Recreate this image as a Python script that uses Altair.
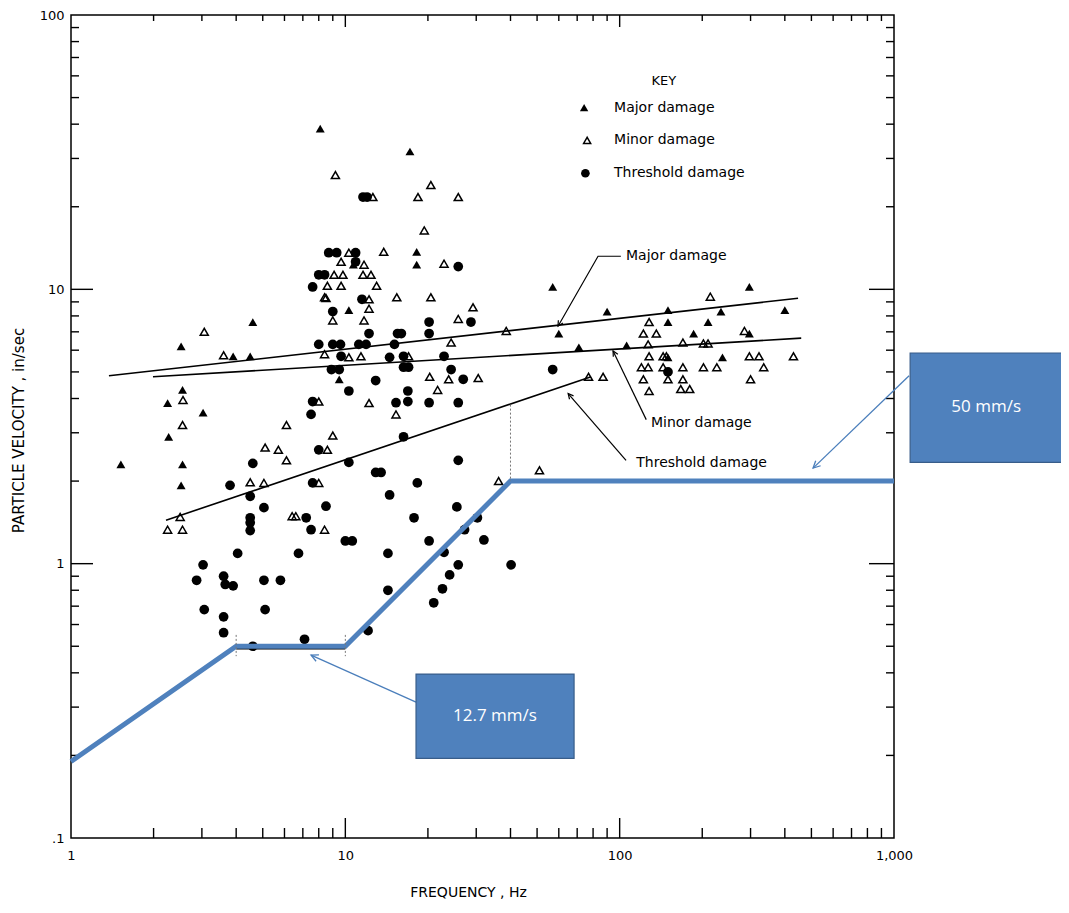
import altair as alt
import pandas as pd

# ---------------- data ----------------
major_freq = [1.52, 2.52, 2.25, 2.55, 3.03, 2.27, 2.55, 2.52, 4.6, 3.9, 4.5, 8.1, 17.2, 18.2,
              18.2, 10.7, 10.3, 9.5, 57, 90, 150, 297, 234, 400, 60, 150, 210, 186, 297, 71,
              106, 150, 237]
major_vel = [2.3, 6.2, 3.85, 4.3, 3.55, 2.9, 2.3, 1.93, 7.6, 5.7, 5.7, 38.5, 31.8, 13.7,
             12.3, 12.3, 8.4, 4.7, 10.2, 8.3, 8.4, 10.2, 8.3, 8.4, 6.9, 7.6, 7.6, 6.9, 6.9, 6.15,
             6.25, 5.65, 5.65]

minor_freq = [2.56, 3.06, 3.6, 2.55, 5.1, 5.7, 6.1, 6.1, 4.5, 5.05, 2.5, 2.25, 2.55, 6.4, 6.6,
              8.0, 8.6, 8.0, 8.4, 8.5, 9.2, 20.5, 12.6, 18.4, 25.8, 19.4, 10.3, 13.8, 22.9, 9.65,
              11.7, 9.1, 9.8, 11.6, 12.4, 8.6, 9.65, 13.0, 8.4, 12.2, 15.4, 20.5, 29.2, 9.0, 12.2,
              11.7, 25.8, 38.6, 24.3, 8.4, 10.3, 11.4, 17.0, 20.3, 23.8, 30.5, 21.7, 12.2, 15.3,
              9.0, 36.2, 51, 214, 128, 122, 136, 285, 127, 170, 202, 210, 128, 144, 148, 297, 322,
              430, 120, 127, 144, 170, 202, 226, 335, 122, 150, 170, 300, 128, 167, 180, 77, 87]
minor_vel = [3.95, 7.0, 5.75, 3.2, 2.65, 2.6, 3.2, 2.38, 1.98, 1.97, 1.48, 1.33, 1.33, 1.49, 1.49,
             3.9, 2.6, 1.97, 1.33, 9.3, 26.1, 24.0, 21.7, 21.7, 21.7, 16.4, 13.6, 13.7, 12.4, 12.6,
             12.3, 11.3, 11.3, 11.3, 11.3, 10.3, 10.3, 10.3, 9.35, 9.2, 9.35, 9.35, 8.6, 7.7, 8.5,
             7.7, 7.8, 7.05, 6.4, 5.8, 5.65, 5.7, 5.7, 4.8, 4.7, 4.75, 4.3, 3.85, 3.5,
             2.93, 2.0, 2.19, 9.4, 7.6, 6.9, 6.9, 7.05, 6.3, 6.4, 6.35, 6.35, 5.7, 5.7, 5.7, 5.7, 5.7,
             5.7, 5.2, 5.2, 5.2, 5.2, 5.2, 5.2, 5.2, 4.7, 4.7, 4.7, 4.7, 4.26, 4.33, 4.33, 4.8, 4.8]

thr_freq = [7.6, 4.6, 3.8, 4.5, 5.05, 4.5, 4.5, 4.5, 8.5, 4.05, 6.75, 3.03, 2.87, 3.6, 3.65, 3.9,
            5.05, 5.8, 3.06, 3.6, 5.1, 3.6, 7.1, 4.6, 7.6, 7.5, 8.0, 7.6, 7.5, 7.2, 10.0, 10.6,
            14.3, 14.3, 12.1, 8.0, 8.4, 11.5, 9.0, 20.2, 28.7, 8.7, 9.3, 10.9, 10.9, 25.8, 11.6,
            12.0, 12.2, 15.5, 16.0, 20.2, 8.0, 9.0, 9.6, 11.2, 11.9, 15.1, 9.65, 14.5, 16.3, 22.9,
            8.9, 9.5, 16.3, 17.0, 24.3, 12.9, 26.9, 10.3, 16.9, 15.3, 16.9, 20.2, 25.8, 16.3, 10.3,
            12.9, 13.5, 25.8, 18.3, 14.5, 25.5, 17.8, 30.3, 27.2, 20.2, 32.0, 22.9, 25.8, 40.2,
            24.0, 22.6, 21.0, 57, 150]
thr_vel = [10.2, 2.32, 1.93, 1.76, 1.6, 1.47, 1.41, 1.32, 1.62, 1.09, 1.09, 0.99, 0.87, 0.9, 0.84,
           0.83, 0.87, 0.87, 0.68, 0.64, 0.68, 0.56, 0.53, 0.5, 3.9, 3.5, 2.6, 1.97, 1.33, 1.47,
           1.21, 1.21, 1.09, 0.8, 0.57, 11.3, 11.3, 9.2, 8.3, 7.6, 7.6, 13.6, 13.6, 13.6, 12.6,
           12.1, 21.7, 21.7, 6.9, 6.9, 6.9, 6.9, 6.3, 6.3, 6.3, 6.3, 6.3, 6.3, 5.7, 5.65, 5.7, 5.7,
           5.1, 5.1, 5.2, 5.2, 5.1, 4.65, 4.7, 4.26, 4.26, 3.86, 3.9, 3.86, 3.86, 2.9, 2.34, 2.15,
           2.15, 2.38, 1.97, 1.78, 1.61, 1.47, 1.47, 1.33, 1.21, 1.22, 1.1, 0.99, 0.99, 0.91, 0.81,
           0.72, 5.1, 5.0]

# fitted damage lines (end points)
fit_names = ["Major", "Major", "Minor", "Minor", "Threshold", "Threshold"]
fit_freq = [1.375, 447, 1.99, 459, 2.22, 78.7]
fit_vel = [4.84, 9.28, 4.8, 6.64, 1.44, 4.8]

# blue limit curve
limit_freq = [1, 4, 10, 40, 1000]
limit_vel = [0.19, 0.5, 0.5, 2.0, 2.0]

# axis ticks / labels
x_labels = [1, 10, 100, 1000]
y_labels = [0.1, 1, 10, 100]
x_minor = [2, 3, 4, 5, 6, 7, 8, 9, 20, 30, 40, 50, 60, 70, 80, 90,
           200, 300, 400, 500, 600, 700, 800, 900]
x_major = [10, 100]
y_minor = [0.2, 0.3, 0.4, 0.5, 0.6, 0.7, 0.8, 0.9, 2, 3, 4, 5, 6, 7, 8, 9,
           20, 30, 40, 50, 60, 70, 80, 90]
y_major = [1, 10]

# leader lines of the curve labels
lead_grp = ["Major", "Major", "Major", "Minor", "Minor", "Thr", "Thr"]
lead_freq = [101, 83.4, 59.6, 125, 94.6, 105.5, 64.9]
lead_vel = [13.2, 13.2, 7.34, 3.35, 5.96, 2.38, 4.17]
head_freq = [59.6, 94.6, 64.9]
head_vel = [7.34, 5.96, 4.17]
head_ang = [210, 331, 320]

curve_text = ["Major damage", "Minor damage", "Threshold damage"]
curve_text_freq = [105.5, 130, 115]
curve_text_vel = [13.2, 3.27, 2.32]

key_text = ["Major damage", "Minor damage", "Threshold damage"]
key_sym_freq = [74.2, 76.1, 75.0]
key_vel = [46.0, 34.9, 26.5]
key_text_freq = [95.4, 95.4, 95.4]
key_title_freq = [145]
key_title_vel = [57.6]

# callouts
box_label = ["50 mm/s", "12.7 mm/s"]
box_f1 = [1145, 18.1]
box_f2 = [4385, 68.2]
box_v1 = [5.86, 0.396]
box_v2 = [2.34, 0.195]
box_text_freq = [2167, 35.1]
box_text_vel = [3.71, 0.279]
call_grp = ["a", "a", "b", "b"]
call_freq = [1135, 507, 18.1, 7.5]
call_vel = [4.84, 2.23, 0.313, 0.464]
call_head_freq = [507, 7.5]
call_head_vel = [2.23, 0.464]
call_head_ang = [226, 294]

# guide marks on the limit curve
guide_freq = [40, 4, 10]
guide_v1 = [3.8, 0.55, 0.55]
guide_v2 = [2.0, 0.46, 0.46]

# ---------------- chart ----------------
W, H = 823, 823
FONT = "DejaVu Sans"
BLUE = "#4F81BD"
ARROW = "M -0.5 1 L 0 0 L 0.5 1"

xs = alt.Scale(type="log", domain=[1, 1000])
ys = alt.Scale(type="log", domain=[0.1, 100])

x_axis = alt.Axis(values=x_labels, labelExpr="format(datum.value, ',')", ticks=False,
                  domain=False, grid=False, labelFlush=False, labelPadding=11,
                  labelFontSize=13, labelFont=FONT, labelColor="black",
                  title="FREQUENCY , Hz", titleFont=FONT, titleFontSize=14,
                  titleFontWeight="normal", titleColor="black", titleX=397, titleY=54,
                  titleBaseline="middle", titleAlign="center")
y_axis = alt.Axis(values=y_labels, labelExpr="datum.value < 1 ? '.1' : format(datum.value, ',')",
                  ticks=False, domain=False, grid=False, labelFlush=False, labelPadding=7,
                  labelFontSize=13, labelFont=FONT, labelColor="black",
                  title="PARTICLE VELOCITY , in/sec", titleFont=FONT, titleFontSize=15,
                  titleFontWeight="normal", titleColor="black", titleX=-53, titleY=415,
                  titleAngle=270, titleBaseline="middle", titleAlign="center")


def X(field="f"):
    return alt.X(f"{field}:Q", scale=xs, axis=x_axis)


def Y(field="v"):
    return alt.Y(f"{field}:Q", scale=ys, axis=y_axis)


df_major = pd.DataFrame({"f": major_freq, "v": major_vel})
df_minor = pd.DataFrame({"f": minor_freq, "v": minor_vel})
df_thr = pd.DataFrame({"f": thr_freq, "v": thr_vel})

major = alt.Chart(df_major).mark_point(shape="triangle-up", filled=True, color="black",
                                         size=80, opacity=1).encode(x=X(), y=Y())
minor = alt.Chart(df_minor).mark_point(shape="triangle-up", filled=False, color="black",
                                         size=65, strokeWidth=1.5, opacity=1).encode(x=X(), y=Y())
thr = alt.Chart(df_thr).mark_point(shape="circle", filled=True, color="black",
                                     size=95, opacity=1).encode(x=X(), y=Y())

df_fit = pd.DataFrame({"g": fit_names, "f": fit_freq, "v": fit_vel})
fits = alt.Chart(df_fit).mark_line(color="black", strokeWidth=1.6).encode(
    x=X(), y=Y(), detail="g:N")

df_lim = pd.DataFrame({"f": limit_freq, "v": limit_vel, "o": list(range(len(limit_freq)))})
limit = alt.Chart(df_lim).mark_line(color=BLUE, strokeWidth=5).encode(
    x=X(), y=Y(), order="o:Q")
under = alt.Chart(pd.DataFrame({"f": [4, 10], "v": [0.49, 0.49]})).mark_line(
    color="black", strokeWidth=1.5).encode(x=X(), y=Y())

df_guide = pd.DataFrame({"f": guide_freq, "v1": guide_v1, "v2": guide_v2})
guides = alt.Chart(df_guide).mark_rule(color="#777777", strokeWidth=1, strokeDash=[2, 2]).encode(
    x=X(), y=Y("v1"), y2="v2:Q")

# ticks (inward)
tx_minor = pd.DataFrame({"f": x_minor})
tx_major = pd.DataFrame({"f": x_major})
ty_minor = pd.DataFrame({"v": y_minor})
ty_major = pd.DataFrame({"v": y_major})
tick_style = dict(color="black", strokeWidth=1.4)
ticks = [
    alt.Chart(tx_minor).mark_rule(**tick_style).encode(x=X(), y=alt.value(H), y2=alt.value(H - 10)),
    alt.Chart(tx_major).mark_rule(**tick_style).encode(x=X(), y=alt.value(H), y2=alt.value(H - 20)),
    alt.Chart(tx_minor).mark_rule(**tick_style).encode(x=X(), y=alt.value(0), y2=alt.value(6)),
    alt.Chart(tx_major).mark_rule(**tick_style).encode(x=X(), y=alt.value(0), y2=alt.value(12)),
    alt.Chart(ty_minor).mark_rule(**tick_style).encode(y=Y(), x=alt.value(0), x2=alt.value(8)),
    alt.Chart(ty_major).mark_rule(**tick_style).encode(y=Y(), x=alt.value(0), x2=alt.value(22)),
    alt.Chart(ty_minor).mark_rule(**tick_style).encode(y=Y(), x=alt.value(W), x2=alt.value(W - 8)),
    alt.Chart(ty_major).mark_rule(**tick_style).encode(y=Y(), x=alt.value(W), x2=alt.value(W - 25)),
]

# curve labels with leaders
df_lead = pd.DataFrame({"g": lead_grp, "f": lead_freq, "v": lead_vel,
                        "o": list(range(len(lead_grp)))})
leaders = alt.Chart(df_lead).mark_line(color="black", strokeWidth=1.2).encode(
    x=X(), y=Y(), detail="g:N", order="o:Q")
df_head = pd.DataFrame({"f": head_freq, "v": head_vel, "a": head_ang})
heads = alt.Chart(df_head).mark_point(shape=ARROW, filled=False, color="black", strokeWidth=1.2,
                                        size=110, opacity=1).encode(
    x=X(), y=Y(), angle=alt.Angle("a:Q", scale=None))
df_ctext = pd.DataFrame({"t": curve_text, "f": curve_text_freq, "v": curve_text_vel})
ctext = alt.Chart(df_ctext).mark_text(align="left", baseline="middle", font=FONT, fontSize=14,
                                        color="black").encode(x=X(), y=Y(), text="t:N")

# key
key_tri = alt.Chart(pd.DataFrame({"f": key_sym_freq[:1], "v": key_vel[:1]})).mark_point(
    shape="triangle-up", filled=True, color="black", size=70, opacity=1).encode(x=X(), y=Y())
key_otri = alt.Chart(pd.DataFrame({"f": key_sym_freq[1:2], "v": key_vel[1:2]})).mark_point(
    shape="triangle-up", filled=False, color="black", size=50, strokeWidth=1.5, opacity=1).encode(x=X(), y=Y())
key_dot = alt.Chart(pd.DataFrame({"f": key_sym_freq[2:], "v": key_vel[2:]})).mark_point(
    shape="circle", filled=True, color="black", size=75, opacity=1).encode(x=X(), y=Y())
key_txt = alt.Chart(pd.DataFrame({"t": key_text, "f": key_text_freq, "v": key_vel})).mark_text(
    align="left", baseline="middle", font=FONT, fontSize=14, color="black").encode(
    x=X(), y=Y(), text="t:N")
key_title = alt.Chart(pd.DataFrame({"t": ["KEY"], "f": key_title_freq, "v": key_title_vel})).mark_text(
    align="center", baseline="middle", font=FONT, fontSize=13, color="black").encode(
    x=X(), y=Y(), text="t:N")

# callouts
df_box = pd.DataFrame({"f1": box_f1, "f2": box_f2, "v1": box_v1, "v2": box_v2})
boxes = alt.Chart(df_box).mark_rect(fill=BLUE, stroke="#385D8A", strokeWidth=1.2).encode(
    x=X("f1"), x2="f2:Q", y=Y("v1"), y2="v2:Q")
df_btext = pd.DataFrame({"t": box_label, "f": box_text_freq, "v": box_text_vel})
btext = alt.Chart(df_btext).mark_text(align="center", baseline="middle", font="Open Sans",
                                        fontSize=17, color="white").encode(x=X(), y=Y(), text="t:N")
df_call = pd.DataFrame({"g": call_grp, "f": call_freq, "v": call_vel})
call_lines = alt.Chart(df_call).mark_line(color="#4A7EBB", strokeWidth=1.3).encode(
    x=X(), y=Y(), detail="g:N")
df_chead = pd.DataFrame({"f": call_head_freq, "v": call_head_vel, "a": call_head_ang})
call_heads = alt.Chart(df_chead).mark_point(shape=ARROW, filled=False, color="#4A7EBB",
                                              strokeWidth=1.3, size=200, opacity=1).encode(
    x=X(), y=Y(), angle=alt.Angle("a:Q", scale=None))

chart = alt.layer(
    major, minor, thr, fits, *ticks, under, limit, guides, leaders, heads, ctext,
    key_tri, key_otri, key_dot, key_txt, key_title, call_lines, call_heads, boxes, btext
).properties(
    width=W, height=H,
    autosize=alt.AutoSizeParams(type="none"),
    padding={"left": 63, "top": 7, "right": 167, "bottom": 63},
    background="white",
).configure_view(stroke="black", strokeWidth=1.5)

chart.save("out.html", embed_options={"renderer": "svg", "actions": False})
